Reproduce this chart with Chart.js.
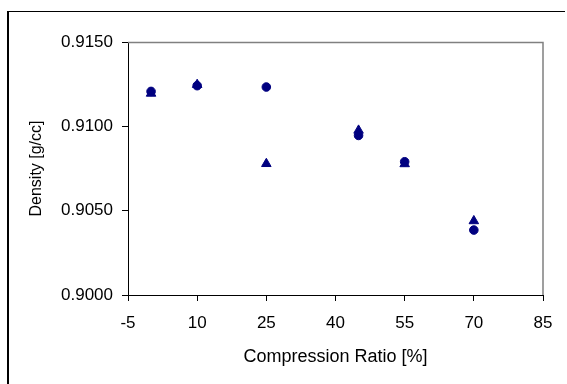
<!DOCTYPE html>
<html>
<head>
<meta charset="utf-8">
<script src="https://cdn.jsdelivr.net/npm/chart.js@4"></script>
<style>
  html, body { margin: 0; padding: 0; background: #fff; }
  #frame { position: absolute; left: 7px; top: 11px; width: 556px; height: 380px;
           border-left: 2px solid #000; border-top: 1px solid #000; }
  #wrap { position: absolute; left: 0; top: 0; width: 567px; height: 384px; }
</style>
</head>
<body>
<div id="frame"></div>
<div id="wrap"><canvas id="myChart"></canvas></div>
<script>
// compression ratio [%] for each sample
var Ratio = [0, 10, 25, 45, 55, 70];
// density [g/cc], two sets of measurements
var DensityA = [0.91207, 0.91241, 0.91233, 0.90946, 0.90790, 0.90385];
var DensityB = [0.91195, 0.91247, 0.90778, 0.90976, 0.90777, 0.90439];

var xTicks = [-5, 10, 25, 40, 55, 70, 85];
var yTicks = [0.9000, 0.9050, 0.9100, 0.9150];

function toPoints(xs, ys) {
  return xs.map(function (x, i) { return { x: x, y: ys[i] }; });
}

// gray box round the plot area, the axes draw black over left/bottom
var plotBox = {
  id: 'plotBox',
  beforeDatasetsDraw: function (chart) {
    var a = chart.chartArea, ctx = chart.ctx;
    ctx.save();
    ctx.strokeStyle = '#808080';
    ctx.lineWidth = 1.5;
    ctx.beginPath();
    ctx.moveTo(a.left, a.top + 0.5);
    ctx.lineTo(a.right, a.top + 0.5);
    ctx.lineTo(a.right, a.bottom);
    ctx.stroke();
    ctx.restore();
  }
};

var ctx = document.getElementById("myChart");
var myChart = new Chart(ctx, {
  type: 'scatter',
  data: {
    datasets: [
      {
        data: toPoints(Ratio, DensityB),
        label: "Set B",
        pointStyle: 'triangle',
        pointRadius: 5.5,
        backgroundColor: "#000080",
        borderColor: "#000080"
      },
      {
        data: toPoints(Ratio, DensityA),
        label: "Set A",
        pointStyle: 'circle',
        pointRadius: 4.3,
        backgroundColor: "#000080",
        borderColor: "#000080"
      }
    ]
  },
  options: {
    responsive: true,
    maintainAspectRatio: false,
    animation: false,
    layout: { padding: { left: 0, top: 42, right: 24, bottom: 0 } },
    plugins: { legend: { display: false }, tooltip: { enabled: false } },
    scales: {
      x: {
        type: 'linear',
        min: -5, max: 85,
        afterBuildTicks: function (scale) {
          scale.ticks = xTicks.map(function (v) { return { value: v }; });
        },
        afterFit: function (scale) { scale.height = 89; },
        border: { color: '#000', width: 1 },
        grid: { drawOnChartArea: false, drawTicks: true, tickLength: 6, color: '#000' },
        ticks: { color: '#000', padding: 12, maxRotation: 0,
                 font: { family: 'Liberation Sans, Arial', size: 17 } },
        title: { display: true, text: 'Compression Ratio [%]', color: '#000',
                 padding: { top: 0, bottom: 16 },
                 font: { family: 'Liberation Sans, Arial', size: 18 } }
      },
      y: {
        min: 0.9, max: 0.915,
        afterBuildTicks: function (scale) {
          scale.ticks = yTicks.map(function (v) { return { value: v }; });
        },
        afterFit: function (scale) { scale.width = 128; },
        border: { color: '#000', width: 1 },
        grid: { drawOnChartArea: false, drawTicks: true, tickLength: 6, color: '#000' },
        ticks: { color: '#000', padding: 9,
                 font: { family: 'Liberation Sans, Arial', size: 17 },
                 callback: function (v) { return v.toFixed(4); } },
        title: { display: true, text: 'Density [g/cc]', color: '#000',
                 padding: { top: 27, bottom: 0 },
                 font: { family: 'Liberation Sans, Arial', size: 16 } }
      }
    }
  },
  plugins: [plotBox]
});
</script>
</body>
</html>
